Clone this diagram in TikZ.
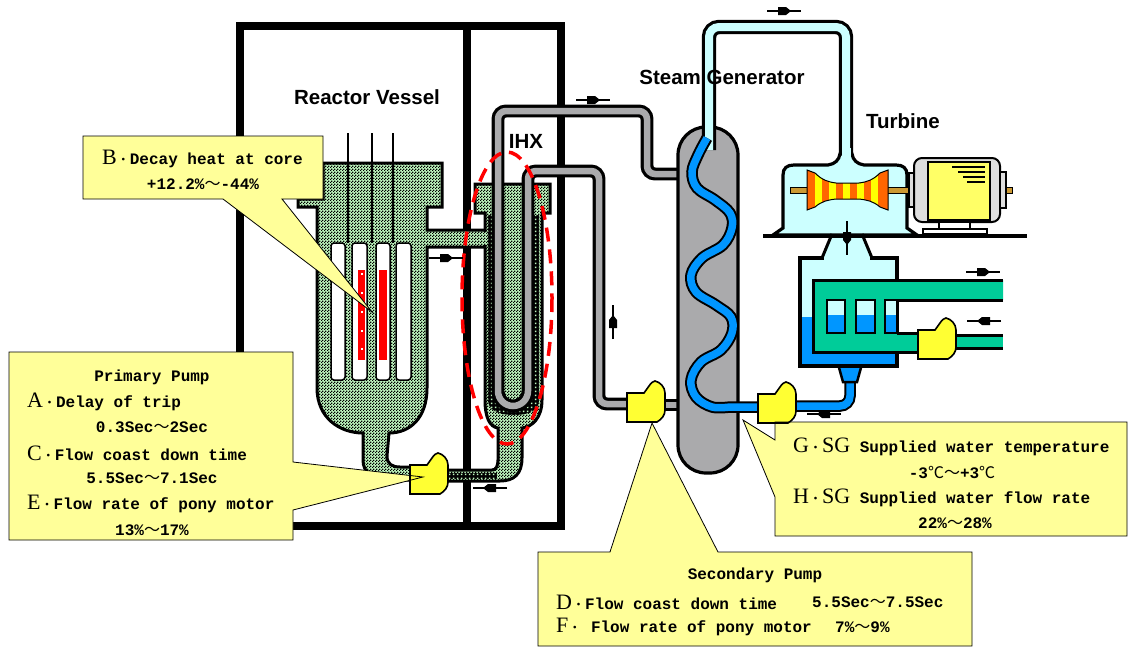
\documentclass[tikz,border=0pt]{standalone}
\usepackage{fontspec}
\setmainfont{Liberation Sans}
\newfontfamily\cmono{Liberation Mono}
\newfontfamily\cserif{Liberation Serif}
\newfontfamily\cjk{Noto Sans CJK JP}
\usetikzlibrary{patterns}
\pgfdeclarepatternformonly{checker}{\pgfqpoint{0pt}{0pt}}{\pgfqpoint{3pt}{3pt}}{\pgfqpoint{3pt}{3pt}}{%
  \pgfpathrectangle{\pgfqpoint{0pt}{0pt}}{\pgfqpoint{1.5pt}{1.5pt}}%
  \pgfpathrectangle{\pgfqpoint{1.5pt}{1.5pt}}{\pgfqpoint{1.5pt}{1.5pt}}%
  \pgfusepath{fill}}
\pgfdeclarepatternformonly{gdots}{\pgfqpoint{0pt}{0pt}}{\pgfqpoint{3.5pt}{3.5pt}}{\pgfqpoint{3.5pt}{3.5pt}}{%
  \pgfpathrectangle{\pgfqpoint{1pt}{1pt}}{\pgfqpoint{1.7pt}{1.7pt}}%
  \pgfusepath{fill}}
\definecolor{chkgreen}{RGB}{192,248,192}
\definecolor{sgray}{RGB}{170,170,172}
\definecolor{sgblue}{RGB}{0,150,255}
\definecolor{ltcyan}{RGB}{204,255,255}
\definecolor{seagreen}{RGB}{0,204,153}
\definecolor{cyellow}{RGB}{255,255,153}
\definecolor{pyellow}{RGB}{255,255,51}
\definecolor{rorange}{RGB}{255,102,0}
\definecolor{ryellow}{RGB}{255,255,0}
\definecolor{shaftc}{RGB}{204,153,51}
\definecolor{genyel}{RGB}{255,255,102}
\definecolor{gengray}{RGB}{222,222,222}
\newcommand\cbig[1]{{\cserif\mdseries\fontsize{22}{22}\selectfont #1}}
\newcommand\kdot{{\cjk\mdseries\fontsize{13}{13}\selectfont ・}}
\newcommand\kwave{{\cjk\mdseries\fontsize{16}{16}\selectfont ～}}
\newcommand\kdeg{{\cjk\mdseries\fontsize{16}{16}\selectfont ℃}}
\begin{document}
\begin{tikzpicture}[x=1pt,y=-1pt,
  chk/.style={preaction={fill=chkgreen},preaction={pattern=checker,pattern color=black}},
  dotblk/.style={preaction={fill=black},preaction={pattern=gdots,pattern color=chkgreen}},
  gpipe/.style={line width=3.2pt,double=sgray,double distance=6.5pt},
  cpipe/.style={line width=3.2pt,double=ltcyan,double distance=8pt},
  bpipe/.style={line width=2pt,double=sgblue,double distance=7.5pt},
  lab/.style={font=\bfseries\fontsize{20.5}{24}\selectfont,inner sep=0pt},
  ctext/.style={font=\cmono\bfseries\fontsize{16}{19}\selectfont,inner sep=0pt,anchor=west},
  ctextc/.style={font=\cmono\bfseries\fontsize{16}{19}\selectfont,inner sep=0pt,anchor=center},
  farrow/.pic={\draw[line width=1.3pt] (-17,0) -- (17,0);
    \fill (-6,-4) -- (2,-4) -- (7,0) -- (2,4) -- (-6,4) -- cycle;},
  pumpshape/.pic={\filldraw[fill=pyellow,line width=1.6pt] (0,12) -- (17,12) -- (22,5)
    .. controls (24,2) and (26,0) .. (28,0) .. controls (33,1) and (38,6) .. (38,12)
    -- (38,29) .. controls (38,34) and (35,38) .. (30,41) -- (0,41) -- cycle;}
]
\useasboundingbox (0,0) rectangle (1128,648);
\fill[white] (0,0) rectangle (1128,648);

% building
\draw[line width=8pt] (240,26) rectangle (561,526);
\draw[line width=8pt] (467,26) -- (467,526);

% reactor vessel
\draw[chk,line width=3pt] (323,163) -- (442,163) -- (442,207) -- (427,207) -- (427,230) -- (490,230)
  -- (490,247) -- (427,247) -- (427,388) .. controls (427,418) and (410,433) .. (389,433)
  -- (387,456) .. controls (387,464) and (392,467) .. (400,467) -- (412,467) -- (412,480)
  -- (388,480) .. controls (372,480) and (363,472) .. (363,460) -- (363,433)
  .. controls (340,433) and (317,418) .. (317,388) -- (317,207) -- (298,207) -- (298,199)
  -- (323,199) -- cycle;
\foreach \a/\b in {331/345,352/367,376/390,396/411}{
  \draw[fill=white,line width=1.5pt,rounded corners=3pt] (\a,243) rectangle (\b,380);}
\draw[line width=1.5pt] (348,133) -- (348,243) (372,133) -- (372,243) (393,133) -- (393,243);
\fill[red] (358,270) rectangle (365,360);
\fill[red] (379,270) rectangle (387,360);
\foreach \y in {273,292,311,330,348}{\fill[white] (360.5,\y) rectangle ++(2,2);}

% IHX
\draw[chk,line width=3pt] (475,184) -- (550,184) -- (550,213) -- (542,213) -- (542,400)
  .. controls (542,418) and (532,427) .. (522,428) -- (522,458)
  .. controls (522,474) and (514,481) .. (500,481) -- (446,481) -- (446,470) -- (492,470)
  .. controls (496,470) and (498,466) .. (498,460) -- (498,428)
  .. controls (490,427) and (485,418) .. (485,400) -- (485,213) -- (475,213) -- cycle;
\path[chk] (480,232) rectangle (492,245);
\path[dotblk] (446,472.5) rectangle (497,478.5);
\path[dotblk] (488,215) -- (539,215) -- (539,400) .. controls (539,410) and (530,415) .. (514,415)
  .. controls (498,415) and (488,410) .. (488,400) -- cycle;
\path[chk] (503,186) rectangle (523,402);

% secondary loop pipes
\draw[gpipe,rounded corners=8pt] (681,174) -- (647,174) -- (647,111) -- (498,111)
  [rounded corners=15pt] -- (498,406) -- (528,406) [rounded corners=8pt] -- (528,171)
  -- (599,171) -- (599,404) -- (632,404);
\draw[gpipe] (660,405) -- (681,405);

% steam generator
\draw[fill=sgray,line width=3.2pt,rounded corners=28pt] (678,127) rectangle (738,473);
\draw[cpipe,rounded corners=10pt] (709,150) -- (709,27) -- (846,27) -- (846,162);
\draw[bpipe] plot[smooth,tension=0.6] coordinates {(707,138) (698,155) (692,172) (697,188)
  (715,200) (730,213) (732,228) (723,245) (702,258) (691,275) (696,292) (716,305) (731,317)
  (732,333) (721,350) (701,362) (691,380) (696,397) (712,407) (730,407)} -- (762,407);

% red dashed ellipse
\draw[red,line width=3.5pt,dash pattern=on 14pt off 8pt] (507,298) ellipse [x radius=45,y radius=146];

% turbine
\draw[fill=ltcyan,line width=3.2pt] (773,235) -- (783,228) -- (783,175)
  .. controls (783,168) and (787,165) .. (794,165) -- (828,165)
  .. controls (835,164) and (839,160) .. (840,154) -- (852,154)
  .. controls (853,160) and (857,164) .. (864,165) -- (896,165)
  .. controls (903,165) and (907,168) .. (907,175) -- (907,228) -- (917,235) -- cycle;
\fill[ltcyan] (841.5,148) rectangle (850.5,168);
\draw[fill=shaftc,line width=1pt] (790,187) rectangle (1012,193);
\begin{scope}
  \clip (807,170) -- (815,173) .. controls (822,180) and (828,182) .. (836,183) -- (859,183)
    .. controls (867,182) and (873,180) .. (880,173) -- (888,170) -- (888,210) -- (880,207)
    .. controls (873,201) and (867,200) .. (859,199) -- (836,199)
    .. controls (828,200) and (822,201) .. (815,207) -- (807,210) -- cycle;
  \fill[rorange] (805,165) rectangle (890,215);
  \foreach \a in {815,829,843,857,871}{\fill[ryellow] (\a,165) rectangle ++(7,50);}
\end{scope}
\draw[line width=1pt] (807,170) -- (815,173) .. controls (822,180) and (828,182) .. (836,183) -- (859,183)
    .. controls (867,182) and (873,180) .. (880,173) -- (888,170) -- (888,210) -- (880,207)
    .. controls (873,201) and (867,200) .. (859,199) -- (836,199)
    .. controls (828,200) and (822,201) .. (815,207) -- (807,210) -- cycle;
% generator
\draw[fill=gengray,line width=1.2pt] (909,173) rectangle (915,207);
\draw[fill=gengray,line width=2pt,rounded corners=8pt] (914,158) rectangle (1000,222);
\draw[fill=genyel,line width=1.5pt] (928,162) rectangle (990,220);
\draw[fill=gengray,line width=1.2pt] (1000,172) rectangle (1006,208);
\draw[line width=1.5pt] (952,167) -- (985,167) (958,172) -- (985,172) (963,177) -- (985,177) (967,182) -- (985,182);
\draw[fill=white,line width=1.5pt] (939,222) rectangle (970,229);
\draw[fill=white,line width=1.5pt] (923,229) rectangle (987,234);

% condenser
\draw[bpipe,rounded corners=10pt] (790,406) -- (850,406) -- (850,366);
\draw[fill=sgblue,line width=2.5pt] (838,364) -- (862,364) -- (857,382) -- (843,382) -- cycle;
\fill[ltcyan] (832,234) -- (822,258) -- (872,258) -- (862,234) -- cycle;
\fill[ltcyan] (800,258) rectangle (897,317);
\fill[sgblue] (800,317) rectangle (897,366);
\draw[line width=3.2pt] (800,258) rectangle (897,366);
\fill[ltcyan] (824,255) rectangle (870,261);
\draw[line width=3pt] (832,234) -- (822,258) (862,234) -- (872,258);
\draw[line width=3.5pt] (763,236) -- (1027,236);
\fill[seagreen] (813,280) -- (1003,280) -- (1003,300) -- (897,300) -- (897,333) -- (918,333)
  -- (918,352) -- (813,352) -- cycle;
\draw[line width=3pt] (1003,280) -- (813,280) -- (813,352) -- (918,352);
\draw[line width=3pt] (1003,300) -- (897,300) (897,333) -- (918,333);
\foreach \a/\b in {827/845,856/875,885/897}{
  \fill[ltcyan] (\a,300) rectangle (\b,315);
  \fill[sgblue] (\a,315) rectangle (\b,333);
  \draw[line width=2.5pt] (\a,300) rectangle (\b,333);}
\fill[seagreen] (955,335) rectangle (1003,348);
\draw[line width=3pt] (955,335) -- (1003,335) (955,348) -- (1003,348);

% flow arrows
\pic at (446,258) {farrow};
\pic at (593,100) {farrow};
\pic at (784,11) {farrow};
\pic[rotate=90] at (613,322) {farrow};
\pic[rotate=180] at (490,488) {farrow};
\pic at (983,272) {farrow};
\pic[rotate=180] at (984,321) {farrow};
\pic[rotate=-90] at (847,238) {farrow};
\pic[rotate=180] at (824,414) {farrow};

% labels
\node[lab] (rv) at (367,97) {Reactor Vessel};
\node[lab] (ihx) at (526,141) {IHX};
\node[lab] (sg) at (722,77) {Steam Generator};
\node[lab] (tb) at (903,121) {Turbine};

% callout fills
\path[fill=cyellow] (83,136) -- (323,136) -- (323,199) -- (282,199) -- (372,312) -- (223,199) -- (83,199) -- cycle;
\path[fill=cyellow] (9,352) -- (293,352) -- (293,462) -- (423,477) -- (293,510) -- (293,540) -- (9,540) -- cycle;
\path[fill=cyellow] (538,552) -- (610,552) -- (652,423) -- (718,552) -- (972,552) -- (972,646) -- (538,646) -- cycle;
\path[fill=cyellow] (775,422) -- (1127,422) -- (1127,536) -- (775,536) -- (775,497) -- (743,420) -- (775,440) -- cycle;

% pumps
\pic at (410,453) {pumpshape};
\pic at (627,381) {pumpshape};
\pic at (758,382) {pumpshape};
\pic at (918,318) {pumpshape};

% callout outlines
\draw[line width=0.8pt] (83,136) -- (323,136) -- (323,199) -- (282,199) -- (372,312) -- (223,199) -- (83,199) -- cycle;
\draw[line width=0.8pt] (9,352) -- (293,352) -- (293,462) -- (423,477) -- (293,510) -- (293,540) -- (9,540) -- cycle;
\draw[line width=0.8pt] (538,552) -- (610,552) -- (652,423) -- (718,552) -- (972,552) -- (972,646) -- (538,646) -- cycle;
\draw[line width=0.8pt] (775,422) -- (1127,422) -- (1127,536) -- (775,536) -- (775,497) -- (743,420) -- (775,440) -- cycle;

% callout texts
\node[ctext] (b1) at (102,159) {\cbig{B}\kdot Decay heat at core};
\node[ctextc] (b2) at (203,184) {+12.2\%\kwave -44\%};

\node[ctextc] (p0) at (152,377) {Primary Pump};
\node[ctext] (p1) at (27,402) {\cbig{A}\kdot Delay of trip};
\node[ctextc] (p2) at (152,427) {0.3Sec\kwave 2Sec};
\node[ctext] (p3) at (27,453) {\cbig{C}\kdot Flow coast down time};
\node[ctextc] (p4) at (152,478) {5.5Sec\kwave 7.1Sec};
\node[ctext] (p5) at (27,504) {\cbig{E}\kdot Flow rate of pony motor};
\node[ctextc] (p6) at (152,530) {13\%\kwave 17\%};

\node[ctextc] (s0) at (755,575) {Secondary Pump};
\node[ctext] (s1) at (556,602) {\cbig{D}\kdot Flow coast down time};
\node[ctext] (s1v) at (812,602) {5.5Sec\kwave 7.5Sec};
\node[ctext] (s2) at (556,627) {\cbig{F}\kdot\ Flow rate of pony motor};
\node[ctext] (s2v) at (835,627) {7\%\kwave 9\%};

\node[ctext] (g1) at (793,447) {\cbig{G}\kdot\cbig{SG} Supplied water temperature};
\node[ctextc] (g2) at (952,472) {-3\kdeg\kwave +3\kdeg};
\node[ctext] (h1) at (793,498) {\cbig{H}\kdot\cbig{SG} Supplied water flow rate};
\node[ctextc] (h2) at (955,523) {22\%\kwave 28\%};
\end{tikzpicture}
\end{document}
